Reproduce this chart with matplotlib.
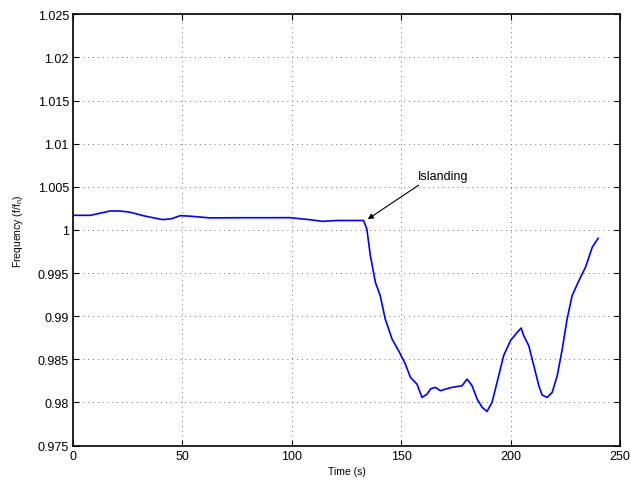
import numpy as np
import matplotlib
matplotlib.use("Agg")
import matplotlib.pyplot as plt

plt.rcParams['font.family'] = ['Liberation Sans', 'DejaVu Sans']
plt.rcParams['mathtext.fontset'] = 'custom'
plt.rcParams['mathtext.rm'] = 'Liberation Sans'
plt.rcParams['mathtext.it'] = 'Liberation Sans'

# time (s) and per-unit frequency
time_s = [0, 8, 17, 21, 25, 27, 32, 37, 41, 45, 49, 53.5, 58, 62.7, 75, 90, 99,
          104, 108, 114, 120.7, 126, 132.8, 134.3, 135.9, 138.2, 140.4, 142.7,
          145.8, 148.8, 151.9, 154.2, 157.2, 159.5, 161.8, 163.5, 165.6, 167.9,
          170.2, 173.2, 177.8, 180.1, 182.4, 184.7, 187.0, 189.2, 191.5, 193.8,
          196.8, 199.9, 203.0, 204.8, 206.0, 208.3, 210.6, 212.9, 214.4, 216.7,
          219.0, 221.3, 223.6, 225.8, 228.1, 231.2, 234.2, 237.3, 240.0]
freq_pu = [1.0017, 1.0017, 1.0022, 1.0022, 1.0021, 1.0020, 1.00166, 1.0014,
           1.0012, 1.0013, 1.00166, 1.0016, 1.0015, 1.0014, 1.00142, 1.00142,
           1.00143, 1.0013, 1.0012, 1.0010, 1.0011, 1.0011, 1.0011, 1.0001,
           0.99702, 0.99393, 0.99238, 0.98967, 0.98736, 0.98600, 0.98445,
           0.98291, 0.98213, 0.98059, 0.98097, 0.9816, 0.98175, 0.98136,
           0.98155, 0.98175, 0.98194, 0.98271, 0.98194, 0.98039, 0.97943,
           0.97896, 0.98001, 0.98233, 0.98542, 0.98716, 0.98813, 0.98863,
           0.98774, 0.98658, 0.98426, 0.98194, 0.98086, 0.98059, 0.98117,
           0.98310, 0.98619, 0.98967, 0.99238, 0.99412, 0.99567, 0.99799,
           0.99904]

xticks = [0, 50, 100, 150, 200, 250]
yticks = [0.975, 0.98, 0.985, 0.99, 0.995, 1.0, 1.005, 1.01, 1.015, 1.02, 1.025]
ytick_labels = ['0.975', '0.98', '0.985', '0.99', '0.995', '1', '1.005', '1.01',
                '1.015', '1.02', '1.025']

fig = plt.figure(figsize=(6.31, 4.81), dpi=100, facecolor='w')
ax = fig.add_axes([0.1157, 0.0715, 0.8669, 0.8966])

ax.plot(time_s, freq_pu, color='#0000ff', linewidth=1.2)

ax.set_xlim(0, 250)
ax.set_ylim(0.975, 1.025)
ax.set_xticks(xticks)
ax.set_xticklabels([str(t) for t in xticks])
ax.set_yticks(yticks)
ax.set_yticklabels(ytick_labels)
ax.tick_params(direction='in', top=True, right=True, labelsize=9, length=4,
               width=0.8, pad=3)
for sp in ax.spines.values():
    sp.set_linewidth(1.2)
ax.grid(True, linestyle=(0, (1, 4)), color='0.45', linewidth=0.7)

ax.set_xlabel('Time (s)', fontsize=7.5, labelpad=3)
ax.set_ylabel(r'Frequency (f/f$_n$)', fontsize=7.5, labelpad=9)

ax.text(157.7, 1.0063, 'Islanding', fontsize=9, ha='left', va='center')
ax.annotate('', xy=(134.7, 1.00125), xytext=(158.0, 1.0052),
            arrowprops=dict(arrowstyle='-|>', color='black', lw=0.8,
                            mutation_scale=8, shrinkA=0, shrinkB=0))

fig.savefig('out.png', dpi=100)
